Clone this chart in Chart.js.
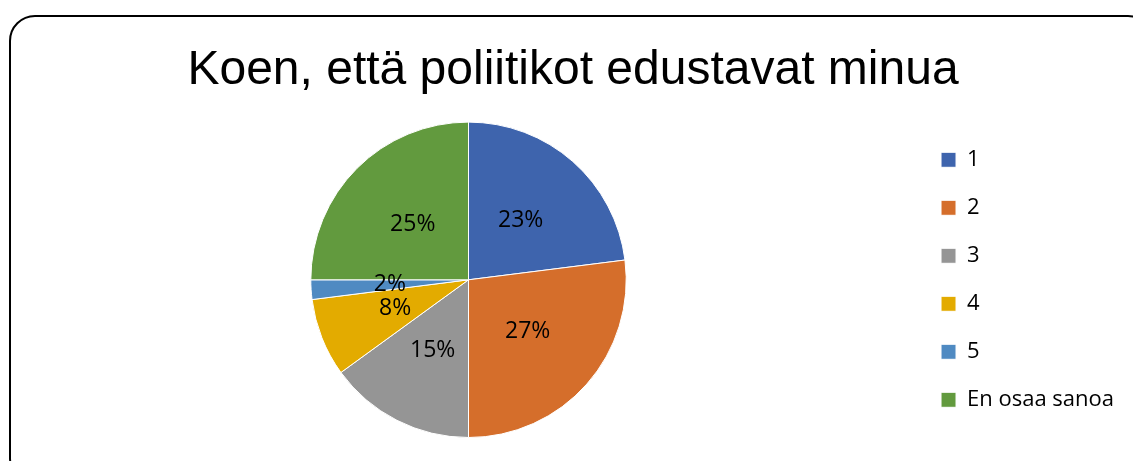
<!DOCTYPE html>
<html>
<head>
<meta charset="utf-8">
<script src="https://cdn.jsdelivr.net/npm/chart.js"></script>
<style>
    html, body { margin: 0; padding: 0; background: #fff; overflow: hidden; }
    #kehys {
        position: absolute; left: 9px; top: 15px; width: 1145px; height: 470px;
        border: 2px solid #000; border-radius: 26px; box-sizing: border-box;
    }
    #wrap { position: absolute; left: 0; top: 0; width: 1133px; height: 461px; }
</style>
</head>
<body>
<div id="kehys"></div>
<div id="wrap"><canvas id="piirakka"></canvas></div>
<script>
// Kyselyn vastaukset (%)
const vaihtoehdot = ['1', '2', '3', '4', '5', 'En osaa sanoa'];
const osuudet = [23, 27, 15, 8, 2, 25];
const varit = ['#3e64ad', '#d56e2b', '#959595', '#e3ab00', '#4f8ac2', '#629a3e'];
const otsikko = 'Koen, että poliitikot edustavat minua';

// Prosenttiluvut lohkojen päälle
const prosenttiLabelit = {
    id: 'prosenttiLabelit',
    afterDatasetsDraw(chart) {
        const ctx = chart.ctx;
        const meta = chart.getDatasetMeta(0);
        ctx.save();
        ctx.font = '23px "Open Sans"';
        ctx.fillStyle = '#000';
        ctx.textAlign = 'center';
        ctx.textBaseline = 'middle';
        meta.data.forEach((arc, i) => {
            const p = arc.tooltipPosition();
            ctx.fillText(osuudet[i] + '%', p.x, p.y);
        });
        ctx.restore();
    }
};

function piirraKaavio() {
    const ctx = document.getElementById('piirakka').getContext('2d');
    new Chart(ctx, {
        type: 'pie',
        data: {
            labels: vaihtoehdot,
            datasets: [{
                data: osuudet,
                backgroundColor: varit,
                borderColor: '#ffffff',
                borderWidth: 1
            }]
        },
        options: {
            responsive: true,
            maintainAspectRatio: false,
            animation: false,
            layout: { padding: { left: 22, right: 9, top: 0, bottom: 23 } },
            plugins: {
                title: {
                    display: true,
                    text: otsikko,
                    color: '#000',
                    font: { family: '"Liberation Sans", Arial', size: 48, weight: 'normal', lineHeight: 1.2 },
                    padding: { top: 42, bottom: 22 }
                },
                legend: {
                    position: 'right',
                    fullSize: false,
                    labels: {
                        color: '#000',
                        boxWidth: 15,
                        boxHeight: 15,
                        padding: 26,
                        font: { family: '"Open Sans"', size: 22, lineHeight: 1.12 }
                    }
                },
                tooltip: { enabled: false }
            }
        },
        plugins: [prosenttiLabelit]
    });
}
document.addEventListener('DOMContentLoaded', piirraKaavio);
</script>
</body>
</html>
